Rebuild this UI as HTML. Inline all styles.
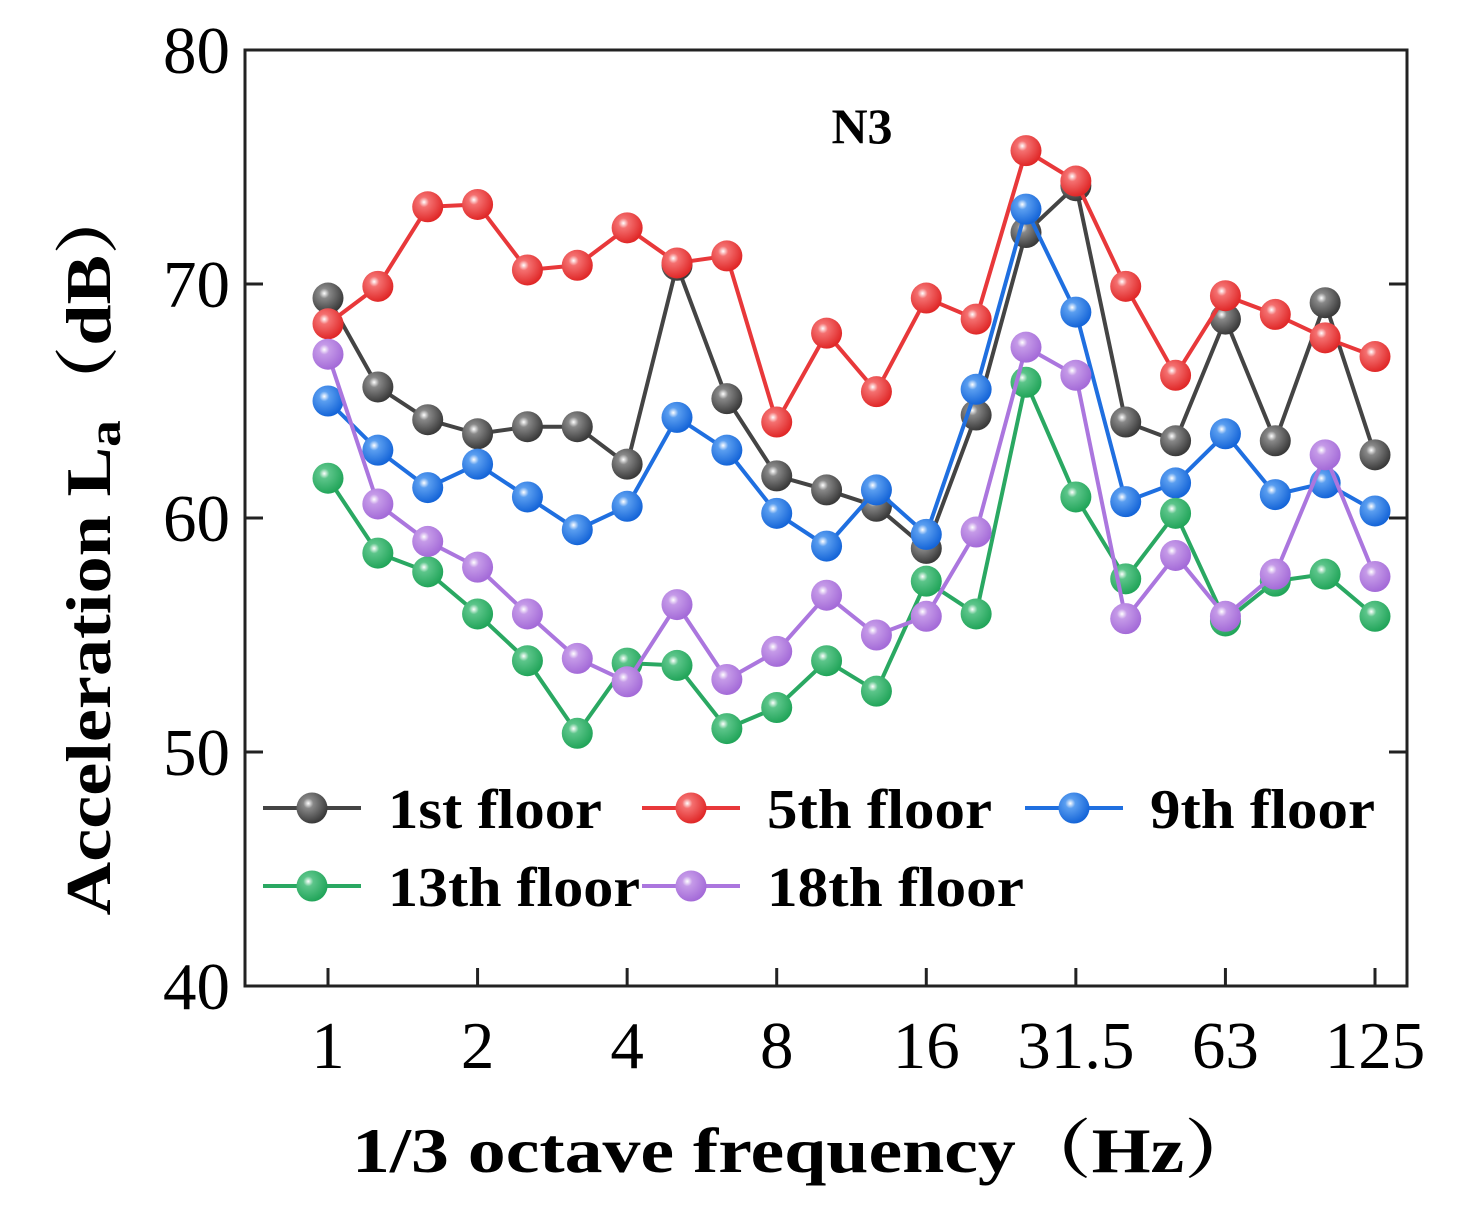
<!DOCTYPE html>
<html><head><meta charset="utf-8"><style>
body{margin:0;background:#fff}
svg{display:block}
text{font-family:"Liberation Serif","Noto Serif CJK SC",serif}
</style></head><body>
<svg id="chart" width="1471" height="1231" viewBox="0 0 1471 1231" xmlns="http://www.w3.org/2000/svg">
<defs>
<radialGradient id="gk" cx="0.38" cy="0.35" r="0.65"><stop offset="0" stop-color="#fff"/><stop offset="0.25" stop-color="#888"/><stop offset="1" stop-color="#3a3a3a"/></radialGradient>
<radialGradient id="gr" cx="0.38" cy="0.35" r="0.65"><stop offset="0" stop-color="#fff"/><stop offset="0.25" stop-color="#f47070"/><stop offset="1" stop-color="#e02828"/></radialGradient>
<radialGradient id="gb" cx="0.38" cy="0.35" r="0.65"><stop offset="0" stop-color="#fff"/><stop offset="0.25" stop-color="#5a9ef0"/><stop offset="1" stop-color="#1565d8"/></radialGradient>
<radialGradient id="gg" cx="0.38" cy="0.35" r="0.65"><stop offset="0" stop-color="#fff"/><stop offset="0.25" stop-color="#5cc58a"/><stop offset="1" stop-color="#22a55a"/></radialGradient>
<radialGradient id="gp" cx="0.38" cy="0.35" r="0.65"><stop offset="0" stop-color="#fff"/><stop offset="0.25" stop-color="#c59ae8"/><stop offset="1" stop-color="#a46bd8"/></radialGradient>
</defs>
<rect x="245" y="50" width="1162" height="936" fill="none" stroke="#222" stroke-width="3"/>
<g id="axes"></g>
<g id="series"></g>
<text x="862" y="143" font-size="50" font-weight="bold" text-anchor="middle">N3</text>
<text x="806" y="1172" font-size="64" font-weight="bold" text-anchor="middle" textLength="908" lengthAdjust="spacingAndGlyphs">1/3 octave frequency（Hz）</text>
<text transform="translate(110,548) rotate(-90)" font-size="64" font-weight="bold" text-anchor="middle" textLength="735" lengthAdjust="spacingAndGlyphs">Acceleration L<tspan font-size="46" dy="10">a</tspan><tspan dy="-10">（dB）</tspan></text>
<g id="legend"></g>
</svg>
<script>
const NS='http://www.w3.org/2000/svg';
const xTickLabels=['1','2','4','8','16','31.5','63','125'];
const xTickIdx=[0,3,6,9,12,15,18,21];
const yTicks=[40,50,60,70,80];
const seriesNames=['1st floor','5th floor','9th floor','13th floor','18th floor'];
const floor1=[69.4,65.6,64.2,63.6,63.9,63.9,62.3,70.8,65.1,61.8,61.2,60.5,58.7,64.4,72.2,74.2,64.1,63.3,68.5,63.3,69.2,62.7];
const floor5=[68.3,69.9,73.3,73.4,70.6,70.8,72.4,70.9,71.2,64.1,67.9,65.4,69.4,68.5,75.7,74.4,69.9,66.1,69.5,68.7,67.7,66.9];
const floor9=[65.0,62.9,61.3,62.3,60.9,59.5,60.5,64.3,62.9,60.2,58.8,61.2,59.3,65.5,73.2,68.8,60.7,61.5,63.6,61.0,61.5,60.3];
const floor13=[61.7,58.5,57.7,55.9,53.9,50.8,53.8,53.7,51.0,51.9,53.9,52.6,57.3,55.9,65.8,60.9,57.4,60.2,55.6,57.3,57.6,55.8];
const floor18=[67.0,60.6,59.0,57.9,55.9,54.0,53.0,56.3,53.1,54.3,56.7,55.0,55.8,59.4,67.3,66.1,55.7,58.4,55.8,57.6,62.7,57.5];
const allSeries=[floor1,floor5,floor9,floor13,floor18];
const colors=['#444','#e8383a','#1f6fe0','#2aa862','#ab76de'];
const grads=['gk','gr','gb','gg','gp'];
const legendWidths=[214,225,225,252,257];
const X=i=>328+i*(1375-328)/21;
const Y=v=>986-(v-40)*(936/40);
function mk(tag,attrs,parent){const e=document.createElementNS(NS,tag);for(const k in attrs)e.setAttribute(k,attrs[k]);parent.appendChild(e);return e;}
const axes=document.getElementById('axes');
yTicks.forEach(v=>{
 const y=Y(v);
 if(v>40&&v<80){
  const t1=mk('line',{x1:245,x2:263,y1:y,y2:y,stroke:'#222','stroke-width':3},axes);
  
  
  const t2=mk('line',{x1:1389,x2:1407,y1:y,y2:y,stroke:'#222','stroke-width':3},axes);
  
  
 }
 const l=mk('text',{x:230,y:y+23,'font-size':67,'text-anchor':'end'},axes);
 l.textContent=String(v);
 
 
});
xTickIdx.forEach((idx,k)=>{
 const x=X(idx);
 const t=mk('line',{x1:x,x2:x,y1:968,y2:986,stroke:'#222','stroke-width':3},axes);
 
 
 const l=mk('text',{x:x,y:1068,'font-size':67,'text-anchor':'middle'},axes);
 l.textContent=xTickLabels[k];
 
 
});
const sg=document.getElementById('series');
allSeries.forEach((vals,s)=>{
 const g=mk('g',{},sg);
 
 
 const pl=mk('polyline',{points:vals.map((v,i)=>X(i)+','+Y(v)).join(' '),fill:'none',stroke:colors[s],'stroke-width':4},g);
 
 
 vals.forEach((v,i)=>{
  const c=mk('circle',{cx:X(i),cy:Y(v),r:15.5,fill:'url(#'+grads[s]+')'},g);
  
  
 });
});
const lg=document.getElementById('legend');
const legPos=[[263,808],[642,808],[1025,808],[263,886],[642,886]];
seriesNames.forEach((n,s)=>{
 const [x,y]=legPos[s];
 const g=mk('g',{},lg);
 
 
 mk('line',{x1:x,x2:x+98,y1:y,y2:y,stroke:colors[s],'stroke-width':4},g);
 mk('circle',{cx:x+49,cy:y,r:15.5,fill:'url(#'+grads[s]+')'},g);
 const t=mk('text',{x:x+125,y:y+20,'font-size':56,'font-weight':'bold',textLength:legendWidths[s],lengthAdjust:'spacingAndGlyphs'},g);
 t.textContent=n;
 
 
});
</script>
</body></html>
